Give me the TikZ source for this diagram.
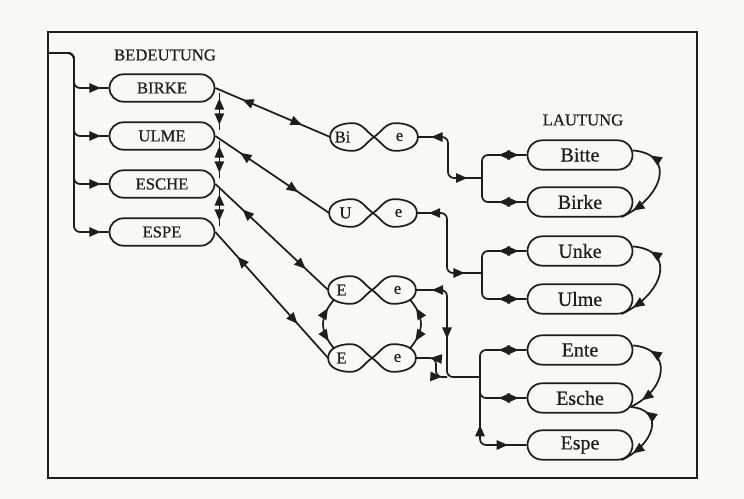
\documentclass[tikz,border=0pt]{standalone}
\usepackage{fontspec}
\setmainfont{Liberation Serif}[FakeBold=0.6]
\usetikzlibrary{arrows.meta,shapes.misc,shapes.geometric,decorations.markings,calc}
\definecolor{paper}{RGB}{248,248,246}
\definecolor{ink}{RGB}{30,30,30}
\tikzset{
  fw/.style={postaction={decorate,decoration={markings,mark=at position #1 with {\arrow{>}}}}},
  bw/.style={postaction={decorate,decoration={markings,mark=at position #1 with {\arrowreversed{>}}}}},
  rc/.style={rounded corners=4.5pt},
  bbox/.style={rounded rectangle, draw, minimum width=78.75pt, minimum height=20.5pt, inner sep=0pt, font=\fontsize{12.5}{14}\selectfont},
  lbox/.style={rounded rectangle, draw, minimum width=78.75pt, minimum height=22pt, inner sep=0pt, font=\fontsize{15}{17}\selectfont},
  lobe/.style={ellipse, minimum width=32.25pt, minimum height=19.5pt, inner sep=0pt},
  lobetxt/.style={font=\fontsize{12.5}{14}\selectfont, inner sep=0pt},
  head/.style={font=\fontsize{12.5}{14}\selectfont, inner sep=0pt},
}
\newcommand\eightfig[6]{%
  \node[lobe] (#1l) at ({#2-21.5},{-#3}) {};
  \node[lobe] (#1r) at ({#2+21.5},{-#3}) {};
  \coordinate (#1c) at (#2,{-#3});
  \node[lobetxt] (#1lt) at ({#2-21.5+#6},{-#3}) {#4};
  \node[lobetxt] (#1rt) at ({#2+25.5},{-#3}) {#5};
  \draw (#1c) to[out=145,in=0] (#1l.north) to[out=180,in=90] (#1l.west)
        to[out=-90,in=180] (#1l.south) to[out=0,in=-145] (#1c)
        to[out=35,in=180] (#1r.north) to[out=0,in=90] (#1r.east)
        to[out=-90,in=0] (#1r.south) to[out=180,in=-35] (#1c);
}
\begin{document}
\begin{tikzpicture}[x=0.75pt,y=0.75pt,line width=1.3pt,ink,
  >={Triangle[length=8.5pt,width=7pt]}]
\fill[paper] (0,0) rectangle (744,-499);
\useasboundingbox (0,0) rectangle (744,-499);
\draw[line width=1.6pt] (48,-32) rectangle (697,-478);

% headings
\node[head] (hB) at (165,-55) {BEDEUTUNG};
\node[head] (hL) at (583,-120) {LAUTUNG};

% BEDEUTUNG boxes
\node[bbox] (bBirke) at (162,-88) {BIRKE};
\node[bbox] (bUlme) at (162,-136) {ULME};
\node[bbox] (bEsche) at (162,-184) {ESCHE};
\node[bbox] (bEspe) at (162,-232) {ESPE};

% LAUTUNG boxes
\node[lbox] (lBitte) at (580,-155) {Bitte};
\node[lbox] (lBirke) at (580,-202) {Birke};
\node[lbox] (lUnke) at (580,-251) {Unke};
\node[lbox] (lUlme) at (580,-299) {Ulme};
\node[lbox] (lEnte) at (580,-350) {Ente};
\node[lbox] (lEsche) at (580,-398) {Esche};
\node[lbox] (lEspe) at (580,-445) {Espe};

% figure eights
\eightfig{Bi}{374}{137}{Bi}{e}{-10}
\eightfig{U}{373}{213}{U}{e}{-6}
\eightfig{Ea}{372}{290}{E}{e}{-9}
\eightfig{Eb}{372}{358}{E}{e}{-9}

% input trunk
\coordinate (in) at (48,-53);
\coordinate (trunk) at (74,-53);
\foreach \b in {bBirke,bUlme,bEsche,bEspe}
  \draw[rc,fw=-6pt] (in) -- (trunk) |- (\b.west);

% vertical links between BEDEUTUNG boxes
\draw[bw=4pt,fw=-4pt] ($(bBirke.east)+(4,-5)$) -- ($(bUlme.east)+(4,6)$);
\draw[bw=4pt,fw=-4pt] ($(bUlme.east)+(4,-5)$) -- ($(bEsche.east)+(4,6)$);
\draw[bw=4pt,fw=-4pt] ($(bEsche.east)+(4,-5)$) -- ($(bEspe.east)+(4,6)$);

% diagonals to figure eights
\draw[bw=22pt,fw=-23pt] (bBirke.east) -- (Bil.west);
\draw[bw=22.5pt,fw=-28pt] (bUlme.east) -- (Ul.west);
\draw[bw=28pt,fw=-23pt] (bEsche.east) -- (Eal.west);
\draw[bw=25pt,fw=-34pt] (bEspe.east) -- (Ebl.west);

% links between the two E-e figures
\draw[bw=8pt,fw=-7pt] (Eal.210) to[out=-130,in=130,looseness=1.2] (Ebl.150);
\draw[bw=8pt,fw=-7pt] (Ear.-30) to[out=-50,in=50,looseness=1.2] (Ebr.30);

% junctions
\coordinate (j1) at (482,-178);
\coordinate (k1) at (448,-178);
\coordinate (j2) at (482,-273);
\coordinate (k2) at (447,-273);
\coordinate (j3) at (480,-377);
\coordinate (k3) at (447,-377);
\coordinate (k4) at (436,-377);

\draw[rc,bw=10pt,fw=-11pt] (Bir.east) -| (k1) -- (j1);
\draw[rc,bw=9pt,fw=-13pt] (Ur.east) -| (k2) -- (j2);
\draw[rc,bw=12pt,fw=58pt] (Ear.east) -| (k3) -- (j3);
\draw[rc,bw=11pt,fw=-4pt] (Ebr.east) -| (k4) -- (k3);

% LAUTUNG brackets
\draw[rc,bw=-21pt,fw=-6pt] (j1) |- (lBitte.west);
\draw[rc,bw=-21pt,fw=-6pt] (j1) |- (lBirke.west);
\draw[rc,bw=-21pt,fw=-6pt] (j2) |- (lUnke.west);
\draw[rc,bw=-21pt,fw=-6pt] (j2) |- (lUlme.west);
\draw[rc,bw=-21pt,fw=-6pt] (j3) |- (lEnte.west);
\draw[rc,bw=-21pt,fw=-6pt] (j3) |- (lEsche.west);
\draw[rc,bw=36pt,fw=-14pt] (j3) |- (lEspe.west);

% right-hand arcs
\draw[bw=14pt,fw=-10pt] (lBitte.5) to[out=-5,in=25,looseness=1.7] (lBirke.-20);
\draw[bw=14pt,fw=-10pt] (lUnke.5) to[out=-5,in=25,looseness=1.7] (lUlme.-20);
\draw[bw=14pt,fw=-10pt] (lEnte.5) to[out=-5,in=25,looseness=1.7] (lEsche.-10);
\draw[bw=12pt,fw=-10pt] (lEsche.-10) to[out=-5,in=25,looseness=1.7] (lEspe.-20);
\end{tikzpicture}
\end{document}
